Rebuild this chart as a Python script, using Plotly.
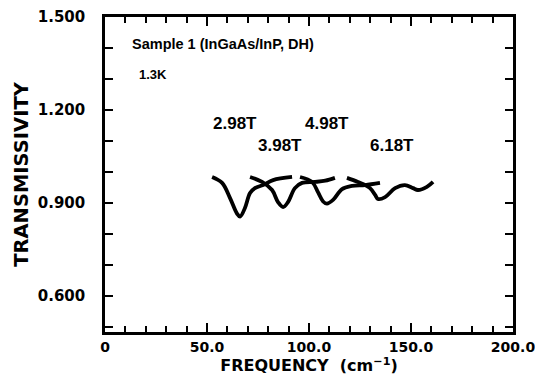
import plotly.graph_objects as go

# Data
seg1_x = [52.5, 57.4, 61.3, 64.7, 66.2, 68.6, 71.1, 73.5, 77.5, 82.4, 91.7]
seg1_y = [0.984, 0.965, 0.916, 0.866, 0.856, 0.884, 0.932, 0.948, 0.958, 0.974, 0.984]
seg2_x = [71.1, 77.0, 81.9, 84.8, 87.3, 89.7, 93.1, 96.6, 103.0, 108.0, 112.7]
seg2_y = [0.984, 0.968, 0.942, 0.903, 0.887, 0.903, 0.948, 0.965, 0.968, 0.972, 0.981]
seg3_x = [95.6, 101.5, 104.4, 106.9, 108.8, 111.8, 116.2, 121.1, 127.5, 134.8]
seg3_y = [0.984, 0.968, 0.935, 0.905, 0.898, 0.910, 0.945, 0.955, 0.958, 0.965]
seg4_x = [118.6, 124.0, 129.9, 132.4, 133.8, 137.3, 142.2, 147.0, 151.0, 153.4, 157.8, 160.8]
seg4_y = [0.981, 0.968, 0.948, 0.926, 0.913, 0.919, 0.948, 0.958, 0.948, 0.942, 0.952, 0.968]

field_labels = ["2.98T", "3.98T", "4.98T", "6.18T"]
label_x = [63.7, 85.8, 108.8, 140.7]
label_y = [1.158, 1.084, 1.158, 1.084]

FONT = "Liberation Sans"
TFONT = "DejaVu Sans"
fig = go.Figure()
for xs, ys in [(seg1_x, seg1_y), (seg2_x, seg2_y), (seg3_x, seg3_y), (seg4_x, seg4_y)]:
    fig.add_trace(go.Scatter(x=xs, y=ys, mode="lines",
                             line=dict(color="black", width=3.8, shape="spline"),
                             showlegend=False, hoverinfo="skip"))

for t, lx, ly in zip(field_labels, label_x, label_y):
    fig.add_annotation(x=lx, y=ly, text=t, showarrow=False, xref="x", yref="y",
                       font=dict(family=FONT, size=17, color="black", weight="bold"))

fig.add_annotation(x=12.3, y=1.413, text="Sample 1 (InGaAs/InP, DH)", showarrow=False,
                   xanchor="left", font=dict(family=FONT, size=14.5, color="black", weight="bold"))
fig.add_annotation(x=15.7, y=1.316, text="1.3K", showarrow=False,
                   xanchor="left", font=dict(family=FONT, size=13, color="black", weight="bold"))

xtickfont = dict(family=TFONT, size=14, color="black", weight="bold")
ytickfont = dict(family=TFONT, size=15, color="black", weight="bold")

fig.update_xaxes(range=[0, 200], tickmode="linear", tick0=0, dtick=50, tickformat=".1f",
                 labelalias={"0.0": "0"}, automargin=False, ticklabeloverflow="allow",
                 showline=True, linecolor="black", linewidth=2.5, mirror="allticks",
                 ticks="inside", ticklen=9, tickwidth=2, tickcolor="black",
                 minor=dict(dtick=10, ticks="inside", ticklen=6, tickwidth=2, tickcolor="black"),
                 showgrid=False, zeroline=False, tickfont=xtickfont,
                 title=dict(text="FREQUENCY  (cm<sup>−1</sup>)", standoff=6,
                            font=dict(family=TFONT, size=16, color="black", weight="bold")))
fig.update_yaxes(range=[0.484, 1.5], tickmode="linear", tick0=0.6, dtick=0.3, tickformat=".3f",
                 automargin=False, ticklabeloverflow="allow",
                 showline=True, linecolor="black", linewidth=2.5, mirror="allticks",
                 ticks="inside", ticklen=8, tickwidth=2, tickcolor="black",
                 minor=dict(dtick=0.1, ticks="inside", ticklen=8, tickwidth=2, tickcolor="black"),
                 showgrid=False, zeroline=False, tickfont=ytickfont, ticklabelstandoff=14,
                 title=dict(text="TRANSMISSIVITY", standoff=4,
                            font=dict(family=TFONT, size=19.5, color="black", weight="bold")))

fig.update_layout(width=535, height=387, margin=dict(l=105, r=22, t=17, b=55),
                  paper_bgcolor="white", plot_bgcolor="white")
fig.write_html("out.html")
